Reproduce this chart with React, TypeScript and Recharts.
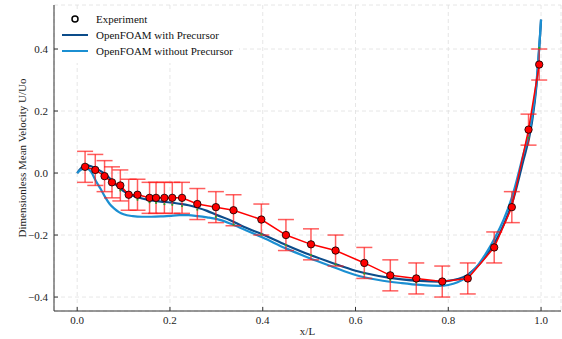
import React from 'react';
import { ComposedChart, Line, XAxis, YAxis, CartesianGrid, ErrorBar, Legend, Scatter } from 'recharts';

const expX = [0.017, 0.039, 0.059, 0.075, 0.093, 0.111, 0.130, 0.156, 0.170, 0.188, 0.205, 0.226, 0.259, 0.299, 0.337, 0.397, 0.450, 0.504, 0.557, 0.619, 0.675, 0.731, 0.787, 0.842, 0.899, 0.937, 0.973, 0.996];
const expY = [0.02, 0.01, -0.01, -0.03, -0.04, -0.07, -0.07, -0.08, -0.08, -0.08, -0.08, -0.08, -0.10, -0.11, -0.12, -0.15, -0.20, -0.23, -0.25, -0.29, -0.33, -0.34, -0.35, -0.34, -0.24, -0.11, 0.14, 0.35];
const expErr = [0.05, 0.05, 0.05, 0.05, 0.05, 0.05, 0.05, 0.05, 0.05, 0.05, 0.05, 0.05, 0.05, 0.05, 0.05, 0.05, 0.05, 0.05, 0.05, 0.05, 0.05, 0.05, 0.05, 0.05, 0.05, 0.05, 0.05, 0.05];

const sampleY = [0.02, 0.012, -0.005, -0.03, -0.05, -0.07, -0.08, -0.088, -0.09, -0.094, -0.096, -0.10, -0.112, -0.135, -0.16, -0.192, -0.226, -0.258, -0.288, -0.318, -0.338, -0.346, -0.352, -0.328, -0.225, -0.10, 0.12, 0.41];

const simX = [0, 0.01, 0.02, 0.03, 0.04, 0.05, 0.06, 0.07, 0.08, 0.09, 0.10, 0.12, 0.14, 0.16, 0.18, 0.20, 0.22, 0.24, 0.26, 0.28, 0.30, 0.33, 0.36, 0.40, 0.45, 0.50, 0.55, 0.60, 0.65, 0.70, 0.74, 0.78, 0.80, 0.82, 0.84, 0.86, 0.88, 0.90, 0.92, 0.94, 0.96, 0.98, 0.99, 1.0];
const withPrecursor = [0, 0.018, 0.025, 0.022, 0.015, 0.007, -0.003, -0.017, -0.033, -0.046, -0.058, -0.073, -0.082, -0.088, -0.092, -0.095, -0.099, -0.104, -0.112, -0.122, -0.135, -0.152, -0.174, -0.198, -0.232, -0.263, -0.29, -0.315, -0.332, -0.343, -0.348, -0.35, -0.348, -0.342, -0.33, -0.305, -0.27, -0.225, -0.165, -0.085, 0.03, 0.16, 0.28, 0.495];
const withoutPrecursor = [0, 0.012, 0.015, 0.004, -0.025, -0.05, -0.077, -0.1, -0.115, -0.126, -0.133, -0.139, -0.141, -0.141, -0.14, -0.138, -0.136, -0.136, -0.139, -0.143, -0.148, -0.163, -0.182, -0.208, -0.243, -0.274, -0.302, -0.329, -0.345, -0.355, -0.361, -0.364, -0.361, -0.352, -0.335, -0.305, -0.262, -0.21, -0.148, -0.065, 0.05, 0.175, 0.29, 0.495];

const xTicks = [0, 0.2, 0.4, 0.6, 0.8, 1.0];
const yTicks = [-0.4, -0.2, 0, 0.2, 0.4];

const seriesNames = ['Experiment', 'OpenFOAM with Precursor', 'OpenFOAM without Precursor'];

const DARK = '#0c4c8a';
const LIGHT = '#1b8fd2';
const FONT = '"Liberation Serif", "DejaVu Serif", serif';

const expData = expX.map((x, i) => ({ x, y: expY[i], err: expErr[i] }));
const sampleData = expX.map((x, i) => ({ x, y: sampleY[i] }));
const withData = simX.map((x, i) => ({ x, y: withPrecursor[i] }));
const withoutData = simX.map((x, i) => ({ x, y: withoutPrecursor[i] }));

const fmt = (v: number) => (v < 0 ? '\u2212' + Math.abs(v).toFixed(1) : v.toFixed(1));

const tickStyle = { fontFamily: FONT, fontSize: 11, fill: '#222' };

const LegendBox = () => (
  <div style={{ background: '#fff', padding: '2px 6px 4px 2px', fontFamily: FONT, fontSize: 11, color: '#111', lineHeight: '16px' }}>
    {seriesNames.map((name, i) => (
      <div key={name} style={{ display: 'flex', alignItems: 'center', height: 16 }}>
        <svg width={28} height={16} style={{ marginRight: 6 }}>
          {i === 0 ? (
            <circle cx={13} cy={8} r={3} fill="#fff" stroke="#000" strokeWidth={1.5} />
          ) : (
            <line x1={0} y1={8} x2={26} y2={8} stroke={i === 1 ? DARK : LIGHT} strokeWidth={2} />
          )}
        </svg>
        <span>{name}</span>
      </div>
    ))}
  </div>
);

export default function App() {
  return (
    <div>
      <style>{`body{margin:0}`}</style>
      <ComposedChart width={562} height={339} margin={{ top: 5, right: 1, bottom: 0, left: 0 }}>
        <CartesianGrid stroke="#e0e0e0" strokeDasharray="4 3" strokeWidth={0.8} />
        <XAxis
          type="number"
          dataKey="x"
          domain={[-0.05, 1.043]}
          ticks={xTicks}
          tickFormatter={(v: number) => v.toFixed(1)}
          allowDataOverflow
          height={28}
          tick={tickStyle}
          tickSize={-4}
          tickMargin={9}
          stroke="#333"
          tickLine={{ stroke: '#333' }}
          axisLine={{ stroke: '#333' }}
          label={{
            content: ({ viewBox }: any) => (
              <text x={viewBox.x + viewBox.width / 2} y={viewBox.y + 20} textAnchor="middle" dominantBaseline="central" style={{ fontFamily: FONT, fontSize: 11, fill: '#222' }}>
                x/L
              </text>
            ),
          }}
        />
        <XAxis
          xAxisId="top"
          orientation="top"
          type="number"
          dataKey="x"
          domain={[-0.05, 1.043]}
          ticks={xTicks}
          allowDataOverflow
          height={0}
          tick={false}
          tickSize={-4}
          tickLine={{ stroke: '#333' }}
          axisLine={{ stroke: '#333' }}
        />
        <YAxis
          type="number"
          domain={[-0.445, 0.542]}
          ticks={yTicks}
          tickFormatter={fmt}
          allowDataOverflow
          width={54}
          tick={tickStyle}
          tickSize={-4}
          tickMargin={10}
          tickLine={{ stroke: '#333' }}
          axisLine={{ stroke: '#333' }}
          label={{
            content: ({ viewBox }: any) => {
              const cx = 22;
              const cy = viewBox.y + viewBox.height / 2;
              return (
                <text x={cx} y={cy} transform={`rotate(-90, ${cx}, ${cy})`} textAnchor="middle" dominantBaseline="central" style={{ fontFamily: FONT, fontSize: 11, fill: '#222' }}>
                  Dimensionless Mean Velocity U/Uo
                </text>
              );
            },
          }}
        />
        <YAxis
          yAxisId="right"
          orientation="right"
          type="number"
          domain={[-0.445, 0.542]}
          ticks={yTicks}
          allowDataOverflow
          width={0}
          tick={false}
          tickSize={-4}
          tickLine={{ stroke: '#333' }}
          axisLine={{ stroke: '#333' }}
        />
        <Line data={withData} dataKey="y" type="monotone" stroke={DARK} strokeWidth={2.2} dot={false} isAnimationActive={false} />
        <Line data={withoutData} dataKey="y" type="monotone" stroke={LIGHT} strokeWidth={2.2} dot={false} isAnimationActive={false} />
        <Scatter
          data={sampleData}
          dataKey="y"
          isAnimationActive={false}
          shape={(p: any) => <circle cx={p.cx} cy={p.cy + 2} r={1.1} fill="#2ca02c" />}
        />
        <Line
          data={expData}
          dataKey="y"
          type="linear"
          stroke="#ff0000"
          strokeWidth={1.5}
          dot={{ r: 3.7, fill: '#ff0000', stroke: '#000', strokeWidth: 0.8 }}
          isAnimationActive={false}
        >
          <ErrorBar dataKey="err" direction="y" width={8} stroke="#ff1a1a" strokeOpacity={0.7} strokeWidth={1.5} />
        </Line>
        <Legend
          layout="horizontal"
          verticalAlign="middle"
          align="center"
          content={() => <LegendBox />}
          wrapperStyle={{ top: 9, left: 60, width: 'auto', height: 'auto' }}
        />
      </ComposedChart>
    </div>
  );
}
